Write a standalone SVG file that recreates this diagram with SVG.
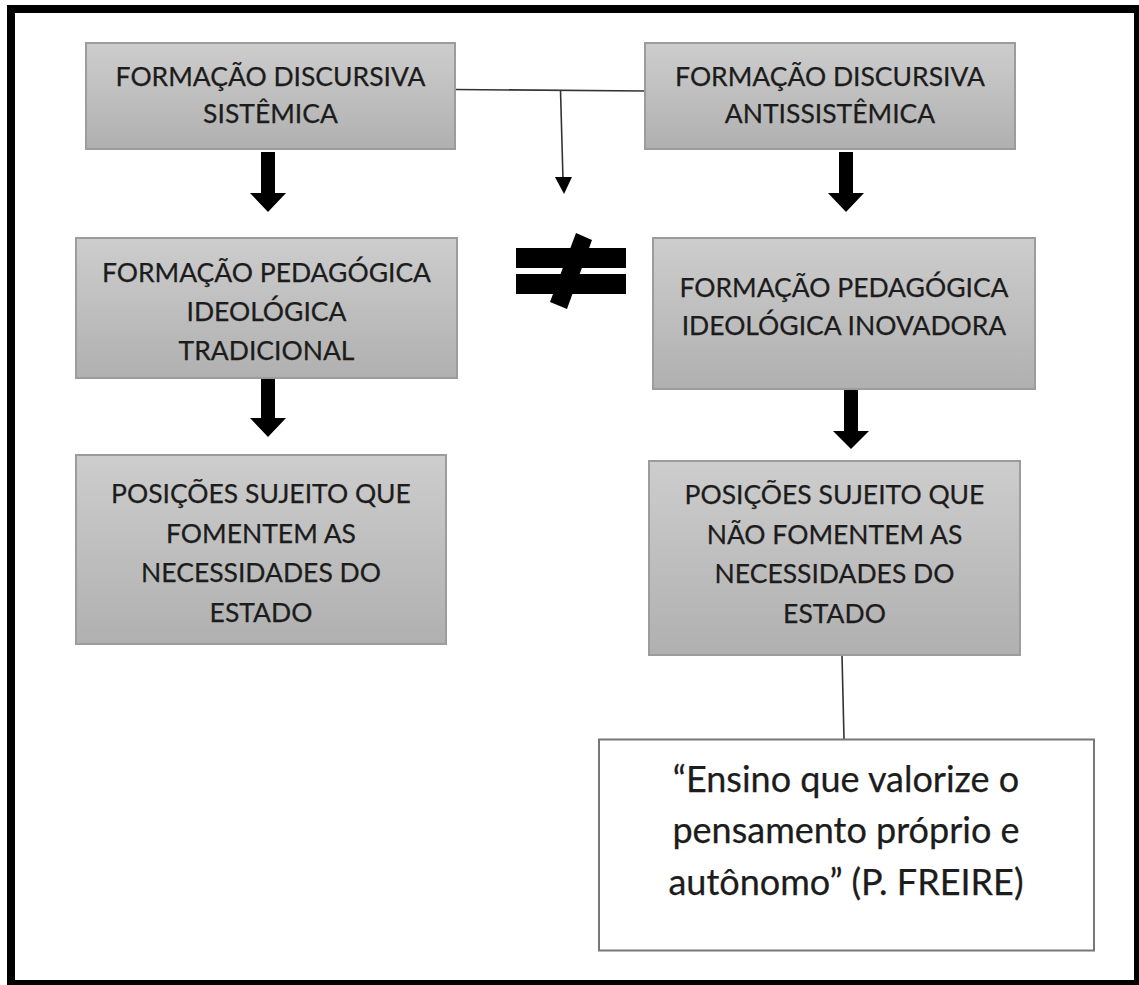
<svg xmlns="http://www.w3.org/2000/svg" width="1139" height="985" viewBox="0 0 1139 985">
<style>
.box{fill:url(#g);stroke:#9c9c9c;stroke-width:2}
.t{font-family:Lato,"Open Sans",sans-serif;font-size:26.5px;fill:#1c1c1c;stroke:#1c1c1c;stroke-width:0.25;text-anchor:middle}
.q{font-family:Lato,"Open Sans",sans-serif;font-size:36px;fill:#1c1c1c;stroke:#1c1c1c;stroke-width:0.25;text-anchor:middle}
.thin{stroke:#333;stroke-width:1.6;fill:none}
.blk{fill:#000}
</style>
<defs>
<linearGradient id="g" x1="0" y1="0" x2="0" y2="1">
<stop offset="0" stop-color="#cdcdcd"/>
<stop offset="1" stop-color="#b0b0b0"/>
</linearGradient>
</defs>
<rect x="11" y="9" width="1127" height="975" fill="#fff" stroke="#000" stroke-width="8"/>
<g id="connectors">
<path class="thin" d="M455 89.5 L645 91"/>
<path class="thin" d="M560.5 90 L563 180"/>
<polygon class="blk" points="555,177 572,177 564,194"/>
<polygon class="blk" points="261,152 275,152 275,193 286,193 268,212 250,193 261,193"/>
<polygon class="blk" points="839,152 853,152 853,193 864,193 846,212 828,193 839,193"/>
<polygon class="blk" points="261,379 275,379 275,418 286,418 268,437 250,418 261,418"/>
<polygon class="blk" points="844,390 858,390 858,431 869,431 851,449 833,431 844,431"/>
<path class="thin" d="M842 655 L844 739"/>
</g>
<g id="neq">
<rect class="blk" x="516" y="248" width="110" height="20"/>
<rect class="blk" x="516" y="274" width="110" height="20"/>
<polygon class="blk" points="576,233 592,240 567,309 550,302"/>
</g>
<g id="n1">
<rect class="box" x="86" y="43" width="369" height="106"/>
<text class="t" x="270.5" y="86">FORMAÇÃO DISCURSIVA</text>
<text class="t" x="270.5" y="123">SISTÊMICA</text>
</g>
<g id="n2">
<rect class="box" x="645" y="43" width="370" height="106"/>
<text class="t" x="830" y="86">FORMAÇÃO DISCURSIVA</text>
<text class="t" x="830" y="123">ANTISSISTÊMICA</text>
</g>
<g id="n3">
<rect class="box" x="76" y="238" width="381" height="140"/>
<text class="t" x="266.5" y="282">FORMAÇÃO PEDAGÓGICA</text>
<text class="t" x="266.5" y="321">IDEOLÓGICA</text>
<text class="t" x="266.5" y="360">TRADICIONAL</text>
</g>
<g id="n4">
<rect class="box" x="653" y="238" width="382" height="151"/>
<text class="t" x="844" y="297">FORMAÇÃO PEDAGÓGICA</text>
<text class="t" x="844" y="335">IDEOLÓGICA INOVADORA</text>
</g>
<g id="n5">
<rect class="box" x="76" y="455" width="370" height="189"/>
<text class="t" x="261" y="503">POSIÇÕES SUJEITO QUE</text>
<text class="t" x="261" y="543">FOMENTEM AS</text>
<text class="t" x="261" y="582">NECESSIDADES DO</text>
<text class="t" x="261" y="622">ESTADO</text>
</g>
<g id="n6">
<rect class="box" x="649" y="461" width="371" height="194"/>
<text class="t" x="834.5" y="504">POSIÇÕES SUJEITO QUE</text>
<text class="t" x="834.5" y="544">NÃO FOMENTEM AS</text>
<text class="t" x="834.5" y="583">NECESSIDADES DO</text>
<text class="t" x="834.5" y="623">ESTADO</text>
</g>
<g id="n7">
<rect x="599" y="739.5" width="495" height="211" fill="#fff" stroke="#777" stroke-width="2"/>
<text class="q" x="846" y="792">“Ensino que valorize o</text>
<text class="q" x="846" y="843">pensamento próprio e</text>
<text class="q" x="846" y="895">autônomo” (P. FREIRE)</text>
</g>
</svg>
